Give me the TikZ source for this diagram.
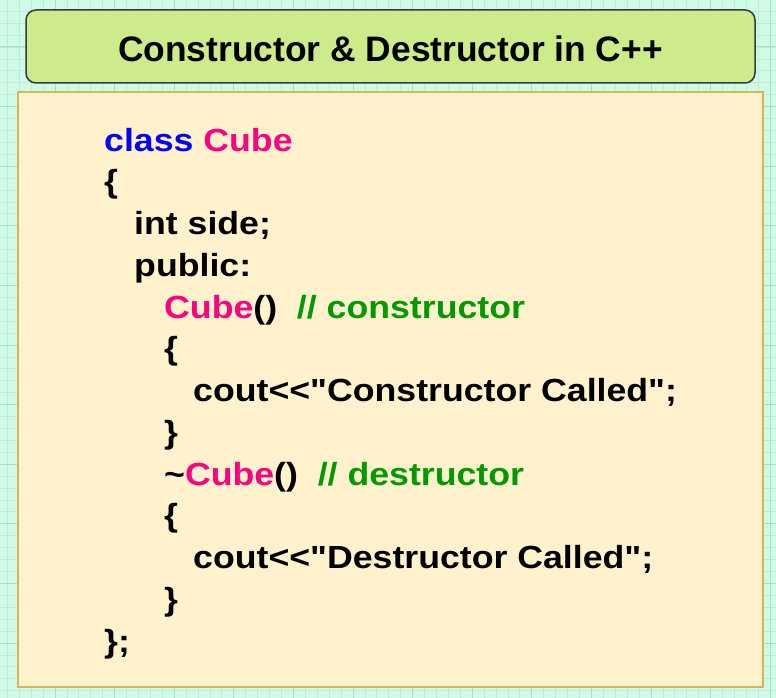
\documentclass[tikz,border=0pt]{standalone}
\usepackage{fontspec}
\setmainfont{Liberation Sans}
\newfontfamily\codefont[FakeStretch=1.115]{Liberation Sans}
\definecolor{bgmint}{RGB}{206,250,230}
\definecolor{gridminor}{RGB}{190,235,215}
\definecolor{gridmajor}{RGB}{172,220,200}
\definecolor{titlefill}{HTML}{CDEB8B}
\definecolor{titleline}{HTML}{36393D}
\definecolor{codefill}{HTML}{FFF2CC}
\definecolor{codeline}{HTML}{D6B656}
\definecolor{kwblue}{HTML}{0000FF}
\definecolor{typepink}{HTML}{FF0080}
\definecolor{cmtgreen}{HTML}{009900}
\tikzset{
	codetext/.style={anchor=base west, inner sep=0pt, font=\codefont\bfseries\fontsize{32}{38}\selectfont},
}

\begin{document}
\begin{tikzpicture}[x=1pt, y=-1pt]
		%%%%% BACKGROUND %%%%%
		\useasboundingbox (0,0) rectangle (776,698);
		\fill[bgmint] (0,0) rectangle (776,698);
		\foreach \i in {0,...,65} \draw[gridminor, line width=0.8pt] ({7.32+11.92*\i},0) -- ++(0,698);
		\foreach \j in {0,...,58} \draw[gridminor, line width=0.8pt] (0,{11.24+11.92*\j}) -- ++(776,0);
		\foreach \i in {0,...,13} \draw[gridmajor, line width=1pt] ({-4.6+59.6*\i},0) -- ++(0,698);
		\foreach \j in {0,...,12} \draw[gridmajor, line width=1pt] (0,{-12.6+59.6*\j}) -- ++(776,0);
		
		%%%%% TITLE %%%%%
		\draw[fill=titlefill, draw=titleline, line width=1.5pt, rounded corners=10pt] (26, 10) rectangle (755, 83);
		\node[anchor=base, inner sep=0pt, font=\bfseries\fontsize{35.4}{42}\selectfont] (title) at (390.5, 61.7) {Constructor \& Destructor in C++};
		
		%%%%% CODE %%%%%
		\draw[fill=codefill, draw=codeline, line width=1.5pt] (18, 92) rectangle (763, 687);
		
		\node[codetext] (classline) at (104, 151) {\textcolor{kwblue}{class} \textcolor{typepink}{Cube}};
		\node[codetext] (openclass) at (104, 192.75) {\{};
		\node[codetext] (member) at (134, 234.5) {int side;};
		\node[codetext] (access) at (134, 276.25) {public:};
		\node[codetext] (ctorhead) at (164, 318) {\textcolor{typepink}{Cube}()\ \ \textcolor{cmtgreen}{// constructor}};
		\node[codetext] (ctoropen) at (164, 359.75) {\{};
		\node[codetext] (ctorbody) at (193, 401.5) {cout<<"Constructor Called";};
		\node[codetext] (ctorclose) at (164, 443.25) {\}};
		\node[codetext] (dtorhead) at (164, 485) {\textasciitilde\textcolor{typepink}{Cube}()\ \ \textcolor{cmtgreen}{// destructor}};
		\node[codetext] (dtoropen) at (164, 526.75) {\{};
		\node[codetext] (dtorbody) at (193, 568.5) {cout<<"Destructor Called";};
		\node[codetext] (dtorclose) at (164, 610.25) {\}};
		\node[codetext] (closeclass) at (104, 652) {\};};
	\end{tikzpicture}
\end{document}
